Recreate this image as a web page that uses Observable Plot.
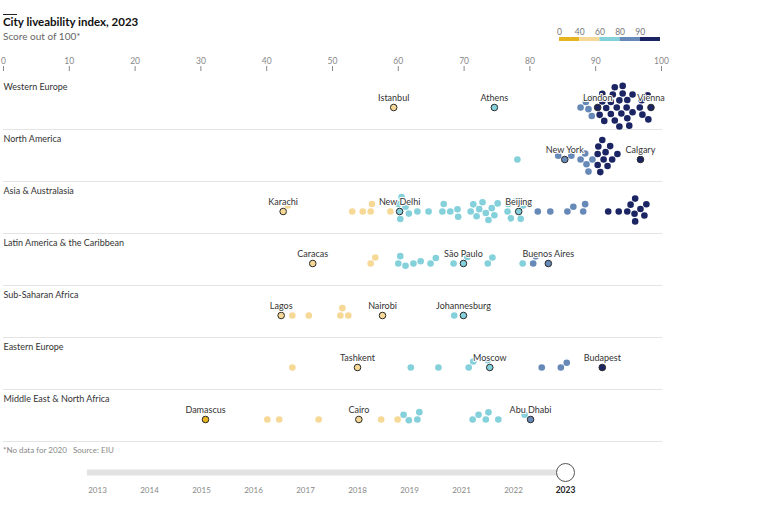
<!DOCTYPE html>
<html><head><meta charset="utf-8">
<script src="https://cdn.jsdelivr.net/npm/d3@7"></script>
<script src="https://cdn.jsdelivr.net/npm/@observablehq/plot@0.6"></script>
<style>
body{margin:0;background:#fff;font-family:Lato,sans-serif;}
#wrap{position:relative;width:768px;height:512px;overflow:hidden;}
#rule{position:absolute;left:3px;top:14px;width:14px;height:1.3px;background:#222}
#title{position:absolute;left:3px;top:15px;font-size:11.5px;font-weight:700;color:#111;white-space:nowrap}
#sub{position:absolute;left:3px;top:30px;font-size:10px;color:#666;white-space:nowrap}
#legend{position:absolute;left:548px;top:15px}
#chart{position:absolute;left:0;top:48px}
#caption{position:absolute;left:3px;top:445px;font-size:8px;color:#888;white-space:nowrap}
#slider{position:absolute;left:0;top:458px}
svg{overflow:visible}
</style></head>
<body><div id="wrap">
<div id="rule"></div>
<div id="title">City liveability index, 2023</div>
<div id="sub">Score out of 100*</div>
<div id="legend"></div>
<div id="chart"></div>
<div id="caption">*No data for 2020&nbsp;&nbsp;&nbsp;Source: EIU</div>
<div id="slider"></div>
</div>
<script>
const regions = ["Western Europe","North America","Asia & Australasia","Latin America & the Caribbean","Sub-Saharan Africa","Eastern Europe","Middle East & North Africa"];

const labelCity   = ["Istanbul","Athens","London","Vienna","New York","Calgary","Karachi","New Delhi","Beijing","Caracas","São Paulo","Buenos Aires","Lagos","Nairobi","Johannesburg","Tashkent","Moscow","Budapest","Damascus","Cairo","Abu Dhabi"];
const labelRegion = ["Western Europe","Western Europe","Western Europe","Western Europe","North America","North America","Asia & Australasia","Asia & Australasia","Asia & Australasia","Latin America & the Caribbean","Latin America & the Caribbean","Latin America & the Caribbean","Sub-Saharan Africa","Sub-Saharan Africa","Sub-Saharan Africa","Eastern Europe","Eastern Europe","Eastern Europe","Middle East & North Africa","Middle East & North Africa","Middle East & North Africa"];
const labelScore  = [59.3,74.6,90.3,98.4,85.3,96.8,42.5,60.2,78.3,47.0,69.9,82.8,42.2,57.6,69.9,53.8,73.9,91.0,30.7,54.0,80.1];

const westernEurope = [87.7,88.5,88.9,89.4,89.5,90.6,91.0,91.0,91.3,91.6,92.3,92.3,92.6,92.9,92.9,93.2,93.6,93.6,93.9,94.1,94.1,94.7,94.8,94.8,95.1,95.6,95.6,96.7,97.0,97.1,97.9,98.0];
const northAmerica = [78.1,84.3,86.3,87.7,88.4,88.6,88.9,89.5,90.3,90.3,90.4,90.7,91.0,91.2,91.5,91.8,92.2,92.5,93.3];
const asiaAustralasia = [43.2,53.0,54.6,55.8,56.0,58.8,60.0,60.3,60.5,61.1,61.6,62.9,64.6,66.7,66.9,67.9,69.0,69.1,71.0,71.4,71.9,72.3,72.8,73.3,73.7,74.2,74.6,75.1,76.6,76.7,77.1,77.8,78.6,79.0,81.2,83.1,85.7,86.6,88.1,88.4,91.9,93.5,94.8,95.3,95.9,96.0,96.0,96.8,97.4,97.7];
const latinAmerica = [55.8,56.5,60.0,60.3,61.1,62.3,63.4,64.9,65.7,68.4,70.5,73.6,74.3,78.9,80.5,80.9];
const subSaharanAfrica = [43.9,46.4,51.2,51.5,52.4,68.5];
const easternEurope = [43.9,61.9,66.1,70.7,71.4,73.6,81.8,84.7,85.6];
const middleEastNorthAfrica = [40.1,41.9,47.9,57.4,59.9,60.8,61.6,62.9,63.2,71.3,72.2,73.3,73.7,75.2,79.2];
const otherScores = [westernEurope,northAmerica,asiaAustralasia,latinAmerica,subSaharanAfrica,easternEurope,middleEastNorthAfrica];

const thresholds = [40,60,80,90];
const colorRange = ["#e6b420","#f6d996","#84d0db","#6689b8","#1b2563"];
const legendLabels = ["0","40","60","80","90"];
const xTicks = [0,10,20,30,40,50,60,70,80,90,100];
const years = ["2013","2014","2015","2016","2017","2018","2019","2021","2022","2023"];
const currentYear = "2023";

const data = [];
labelCity.forEach((c,i)=>data.push({region:labelRegion[i], city:c, score:labelScore[i], hl:1}));
regions.forEach((r,j)=>otherScores[j].forEach(s=>data.push({region:r, city:"", score:s, hl:0})));

const font = "Lato, sans-serif";
const dodge = {anchor:"middle", r:3.3, padding:1};

const chart = Plot.plot({
  width:768, height:395, marginTop:29, marginBottom:2, marginLeft:3, marginRight:107,
  style:{fontFamily:font, background:"transparent", overflow:"visible"},
  x:{domain:[0,100], label:null},
  fy:{domain:regions, padding:0, axis:null},
  color:{type:"threshold", domain:thresholds, range:colorRange},
  opacity:{domain:[0,1], range:[0,1]},
  marks:[
    Plot.frame({anchor:"bottom", stroke:"#e4e4e4"}),
    Plot.axisX({anchor:"top", ticks:xTicks, tickSize:5, tickPadding:2, fontSize:8.5, color:"#888", dy:-7}),
    Plot.text(regions, {fy:d=>d, text:d=>d, frameAnchor:"top-left", textAnchor:"start", dy:6, fontSize:9, fill:"#333"}),
    Plot.dot(data, Plot.dodgeY(dodge, {x:"score", fy:"region", r:3.3, fill:"score", dy:4})),
    Plot.dot(data, Plot.dodgeY(dodge, {x:"score", fy:"region", r:3.3, fill:"none", stroke:"#2a2a2a", strokeWidth:1, strokeOpacity:"hl", dy:4})),
    Plot.text(data, Plot.dodgeY(dodge, {x:"score", fy:"region", text:"city", dy:-5, fontSize:9, fill:"#333", stroke:"white", strokeWidth:2}))
  ]
});
document.getElementById("chart").appendChild(chart);

const legend = Plot.plot({
  width:122, height:30, marginLeft:11, marginRight:10, marginTop:22, marginBottom:4,
  style:{fontFamily:font, background:"transparent", overflow:"visible"},
  x:{domain:[0,legendLabels.length], axis:null},
  y:{domain:[0,1], axis:null},
  color:{type:"ordinal", domain:legendLabels, range:colorRange},
  marks:[
    Plot.rect(legendLabels, {x1:(d,i)=>i, x2:(d,i)=>i+1, y1:()=>0, y2:()=>1, fill:d=>d}),
    Plot.ruleX(legendLabels, {x:(d,i)=>i, y1:()=>0, y2:()=>1, insetTop:-4, stroke:"#333", strokeWidth:1}),
    Plot.text(legendLabels, {x:(d,i)=>i, text:d=>d, frameAnchor:"top", dy:-9, fontSize:8.5, fill:"#777"})
  ]
});
document.getElementById("legend").appendChild(legend);

const slider = Plot.plot({
  width:768, height:50, marginLeft:95, marginRight:201, marginTop:14, marginBottom:22,
  style:{fontFamily:font, background:"transparent", overflow:"visible"},
  x:{type:"point", domain:years, padding:0, axis:null},
  y:{domain:[0,1], axis:null},
  marks:[
    Plot.ruleY([1], {y:d=>d, x1:()=>years[0], x2:()=>currentYear, stroke:"#e2e2e2", strokeWidth:6, insetLeft:-10}),
    Plot.dot([currentYear], {x:d=>d, y:()=>1, r:9, fill:"white", stroke:"#555", strokeWidth:1}),
    Plot.text(years.filter(y=>y!==currentYear), {x:d=>d, y:()=>0, text:d=>d, dy:4, fontSize:8, fill:"#888"}),
    Plot.text([currentYear], {x:d=>d, y:()=>0, text:d=>d, dy:4, fontSize:8.5, fontWeight:"bold", fill:"#222"})
  ]
});
document.getElementById("slider").appendChild(slider);
</script>
</body></html>
